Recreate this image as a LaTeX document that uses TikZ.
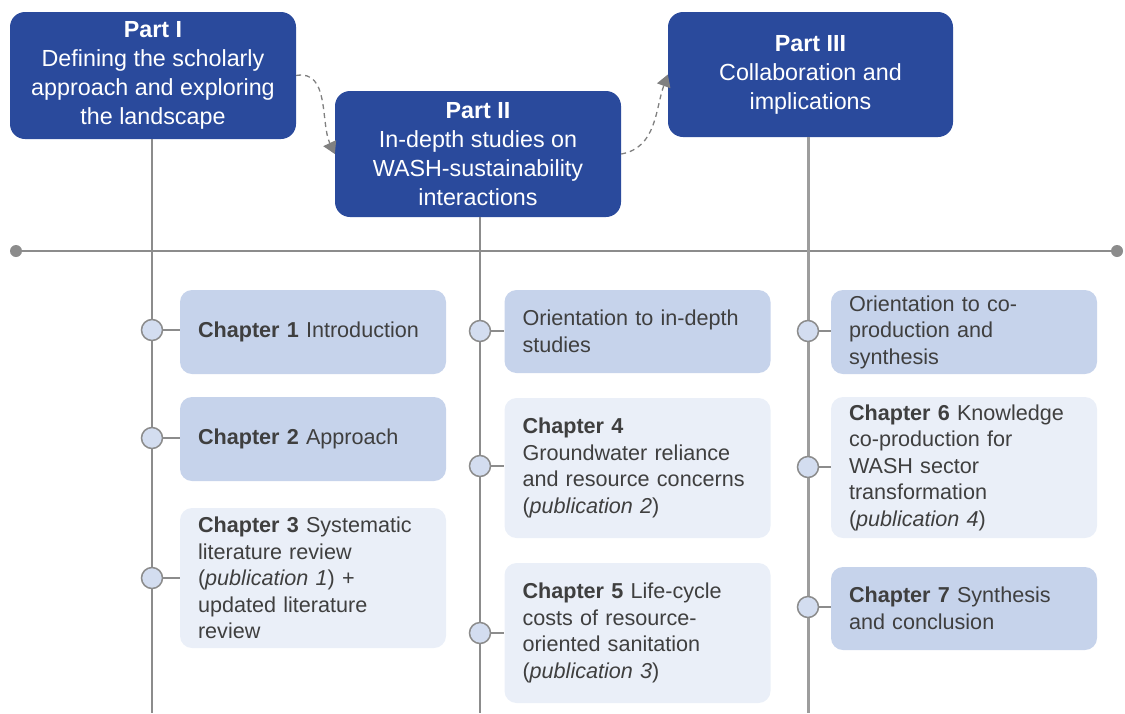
\documentclass[tikz,border=0pt]{standalone}
\usepackage{fontspec}
\setmainfont{Liberation Sans}
\usetikzlibrary{arrows.meta}
\definecolor{partblue}{HTML}{2A4A9C}
\definecolor{chapmid}{HTML}{C6D3EB}
\definecolor{chaplight}{HTML}{EAEFF8}
\definecolor{dotfill}{HTML}{D3DDF0}
\definecolor{linegray}{HTML}{8C8C8C}
\definecolor{textgray}{HTML}{3F3F3F}
\begin{document}
\begin{tikzpicture}[x=1pt,y=-1pt,
  partbox/.style={fill=partblue,rounded corners=15pt,text=white,align=center,
    minimum width=286pt,inner sep=0pt,font=\fontsize{23.3}{29}\selectfont},
  chapbox/.style={rounded corners=12pt,text=textgray,align=left,
    minimum width=266pt,text width=230pt,inner sep=0pt,
    font=\fontsize{21.6}{26.5}\selectfont},
  midbox/.style={chapbox,fill=chapmid},
  lightbox/.style={chapbox,fill=chaplight},
  stem/.style={draw=linegray,line width=2pt},
  knob/.style={circle,draw=linegray,fill=dotfill,line width=1.5pt,
    minimum size=21pt,inner sep=0pt},
  enddot/.style={circle,fill=linegray,minimum size=12pt,inner sep=0pt},
  flow/.style={draw=gray,line width=1.3pt,dash pattern=on 5pt off 4pt,
    -{Triangle[width=14pt,length=12pt]}}
]
\useasboundingbox (0,0) rectangle (1125,713);

% part headers
\node[partbox,minimum height=127pt] (p1) at (153,75.5)
  {\textbf{Part I}\\Defining the scholarly\\approach and exploring\\the landscape};
\node[partbox,minimum height=126pt] (p2) at (478,154)
  {\textbf{Part II}\\In-depth studies on\\WASH-sustainability\\interactions};
\node[partbox,minimum height=125pt,minimum width=285pt] (p3) at (810.5,74.5)
  {\textbf{Part III}\\Collaboration and\\implications};

% flow between parts
\draw[flow] (p1.east) to[out=10,in=115] (p2.west);
\draw[flow] (p2.east) to[out=10,in=-110] (p3.west);

% timeline axis
\node[enddot] (dl) at (16,251) {};
\node[enddot] (dr) at (1117,251) {};
\draw[draw=linegray,line width=1.5pt] (dl) -- (dr);

% column stems
\coordinate (b1) at (152,713);
\coordinate (b2) at (480,713);
\coordinate (b3) at (808,713);
\draw[stem] (p1.south -| b1) -- (b1);
\draw[stem] (p2.south -| b2) -- (b2);
\draw[stem,line width=3pt,draw=linegray!85] (p3.south -| b3) -- (b3);

% column 1
\node[midbox,minimum height=84pt] (ch1) at (313,332)
  {\textbf{Chapter 1} Introduction};
\node[midbox,minimum height=84pt] (ch2) at (313,439)
  {\textbf{Chapter 2} Approach};
\node[lightbox,minimum height=140pt] (ch3) at (313,578)
  {\textbf{Chapter 3} Systematic\\literature review\\(\textit{publication 1}) +\\updated literature\\review};

% column 2
\node[midbox,minimum height=83pt] (or2) at (637.5,331.5)
  {Orientation to in-depth\\studies};
\node[lightbox,minimum height=140pt] (ch4) at (637.5,468)
  {\textbf{Chapter 4}\\Groundwater reliance\\and resource concerns\\(\textit{publication 2})};
\node[lightbox,minimum height=140pt] (ch5) at (637.5,633)
  {\textbf{Chapter 5} Life-cycle\\costs of resource-\\oriented sanitation\\(\textit{publication 3})};

% column 3
\node[midbox,minimum height=84pt] (or3) at (964,332)
  {Orientation to co-\\production and\\synthesis};
\node[lightbox,minimum height=141pt] (ch6) at (964,467.5)
  {\textbf{Chapter 6} Knowledge\\co-production for\\WASH sector\\transformation\\(\textit{publication 4})};
\node[midbox,minimum height=83pt] (ch7) at (964,608.5)
  {\textbf{Chapter 7} Synthesis\\and conclusion};

% knobs on the stems
\node[knob] (k1) at (152,330) {};
\node[knob] (k2) at (152,438) {};
\node[knob] (k3) at (152,578) {};
\node[knob] (k4) at (480,331) {};
\node[knob] (k5) at (480,466) {};
\node[knob] (k6) at (480,633) {};
\node[knob] (k7) at (808,331) {};
\node[knob] (k8) at (808,467) {};
\node[knob] (k9) at (808,607) {};

\foreach \k/\c in {k1/ch1,k2/ch2,k3/ch3,k4/or2,k5/ch4,k6/ch5,k7/or3,k8/ch6,k9/ch7}
  \draw[draw=linegray,line width=1.5pt] (\k.east) -- (\k.east -| \c.west);
\end{tikzpicture}
\end{document}
